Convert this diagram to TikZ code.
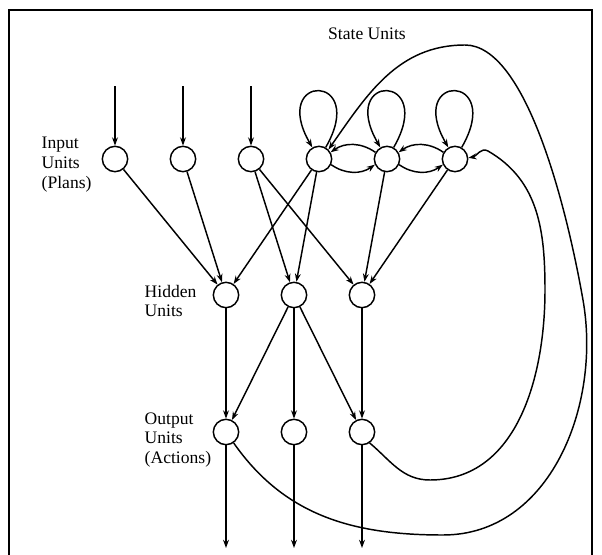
\documentclass[tikz,border=0pt]{standalone}
\usepackage{fontspec}
\setmainfont{Liberation Serif}
\usepackage{tikz}
\usetikzlibrary{arrows.meta}

\begin{document}
\begin{tikzpicture}[
    x=0.03cm, y=-0.03cm,
    > = {Stealth[length=7pt, width=5pt]},
    line width=1.25pt,
    unit/.style={circle, draw, minimum size=0.76cm, inner sep=0pt},
    lbl/.style={align=left, anchor=west, inner sep=0pt, font=\fontsize{15}{17}\selectfont}
]
    \useasboundingbox (0,0) rectangle (602,555);

    % 外框
    \draw[line width=1.4pt] (9,555) -- (9,10) -- (592,10) -- (592,555);

    % 输入单元与状态单元
    \node[unit] (i1) at (115,159) {};
    \node[unit] (i2) at (183,159) {};
    \node[unit] (i3) at (251,159) {};
    \node[unit] (s1) at (319,159) {};
    \node[unit] (s2) at (387,159) {};
    \node[unit] (s3) at (455,159) {};

    % 隐藏单元
    \node[unit] (h1) at (226,295) {};
    \node[unit] (h2) at (294,295) {};
    \node[unit] (h3) at (362,295) {};

    % 输出单元
    \node[unit] (o1) at (226,432) {};
    \node[unit] (o2) at (294,432) {};
    \node[unit] (o3) at (362,432) {};

    % 文字
    \node[font=\fontsize{15}{17}\selectfont] (stlbl) at (367,34) {State Units};
    \node[lbl] (inlbl) at (41,165) {Input\\Units\\(Plans)};
    \node[lbl] (hidlbl) at (144,301) {Hidden\\Units};
    \node[lbl] (outlbl) at (144,440) {Output\\Units\\(Actions)};

    % 外部输入
    \coordinate (t1) at (115,86);
    \coordinate (t2) at (183,86);
    \coordinate (t3) at (251,86);
    \draw[->] (t1) -- (i1);
    \draw[->] (t2) -- (i2);
    \draw[->] (t3) -- (i3);

    % 输入层到隐藏层
    \draw[->] (i1) -- (h1);
    \draw[->] (i2) -- (h1);
    \draw[->] (i3) -- (h2);
    \draw[->] (i3) -- (h3);
    \draw[->] (s1) -- (h1);
    \draw[->] (s1) -- (h2);
    \draw[->] (s2) -- (h3);
    \draw[->] (s3) -- (h3);

    % 隐藏层到输出层
    \draw[->] (h1) -- (o1);
    \draw[->] (h2) -- (o1);
    \draw[->] (h2) -- (o2);
    \draw[->] (h2) -- (o3);
    \draw[->] (h3) -- (o3);

    % 输出
    \coordinate (b1) at (226,548);
    \coordinate (b2) at (294,548);
    \coordinate (b3) at (362,548);
    \draw[->] (o1) -- (b1);
    \draw[->] (o2) -- (b2);
    \draw[->] (o3) -- (b3);

    % 状态单元自环
    \draw[->] (s1.60) to[out=60, in=120, distance=2.6cm] (s1.120);
    \draw[->] (s2.60) to[out=60, in=120, distance=2.6cm] (s2.120);
    \draw[->] (s3.60) to[out=60, in=120, distance=2.6cm] (s3.120);

    % 状态单元之间的连接
    \draw[->] (s1.-25) to[bend right=35] (s2.205);
    \draw[->] (s2.150) to[bend right=35] (s1.30);
    \draw[->] (s2.-25) to[bend right=35] (s3.205);
    \draw[->] (s3.150) to[bend right=35] (s2.30);

    % 输出反馈到状态单元
    \draw[->] (o1.-55) to[out=-55, in=180] (443,535)
        to[out=0, in=-80] (583,300)
        to[out=100, in=0, out distance=3cm, in distance=1.8cm] (465,45)
        to[out=180, in=55] (s1.45);
    \draw[->] (o3.-55) to[out=-40, in=180] (430,480)
        to[out=0, in=-90] (545,290)
        to[out=90, in=-30] (488,151)
        to[out=150, in=10] (s3.5);
\end{tikzpicture}
\end{document}
